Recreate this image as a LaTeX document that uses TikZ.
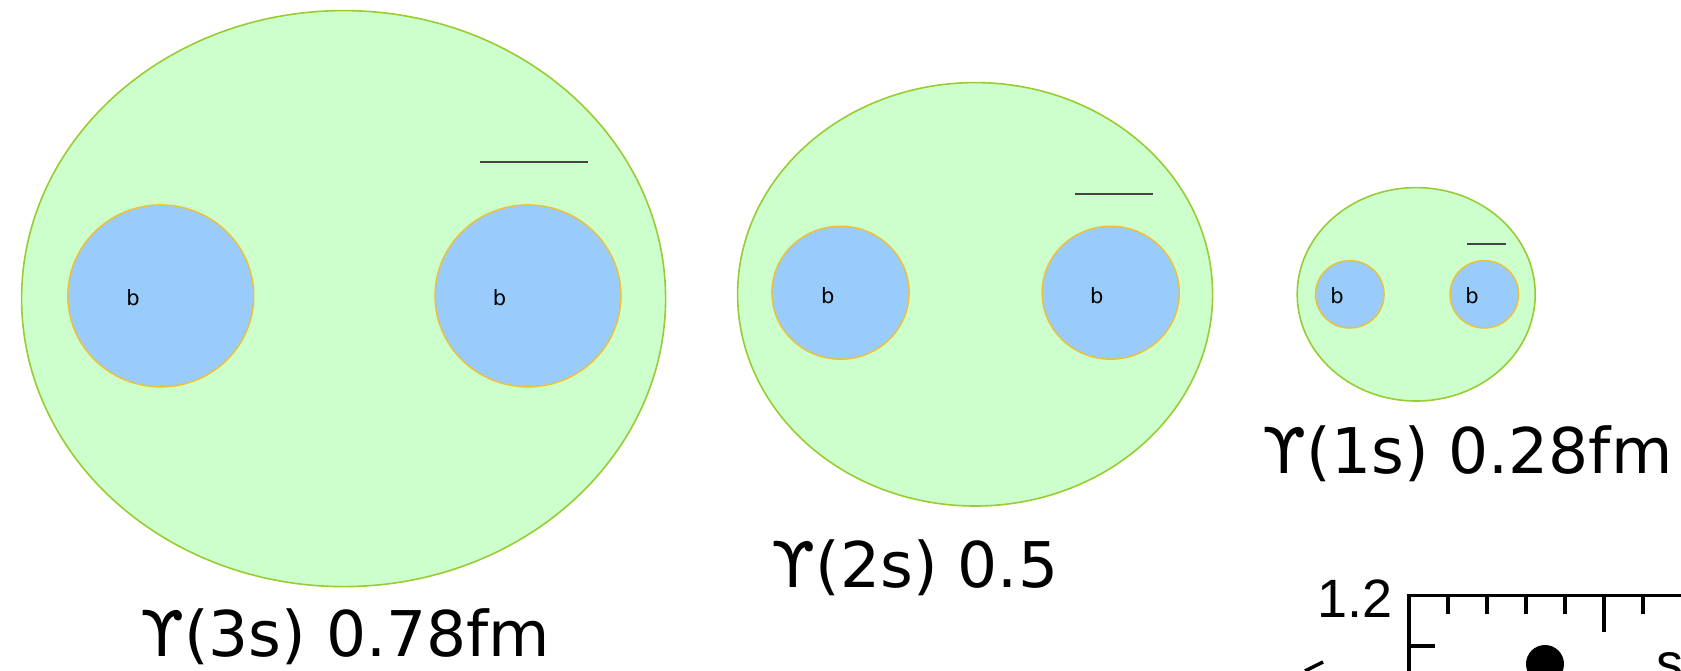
\documentclass[tikz,border=0pt]{standalone}
\usepackage{fontspec}
\setmainfont{DejaVu Sans}
\newfontfamily\helv{Liberation Sans}
\usetikzlibrary{shapes.geometric}
\definecolor{outerfill}{HTML}{CCFFCC}
\definecolor{outerline}{HTML}{99CC33}
\definecolor{innerfill}{HTML}{99CCFA}
\definecolor{innerline}{HTML}{F0C030}
\definecolor{barline}{HTML}{444444}
\begin{document}
\begin{tikzpicture}[x=1pt,y=-1pt,
  outer/.style={ellipse, fill=outerfill, draw=outerline, line width=1.6pt, inner sep=0pt, outer sep=0pt},
  inner/.style={ellipse, fill=innerfill, draw=innerline, line width=1.4pt, inner sep=0pt, outer sep=0pt},
  quark/.style={inner sep=0pt, font=\fontsize{21}{21}\selectfont},
  label/.style={anchor=base, inner sep=0pt, font=\fontsize{63}{63}\selectfont},
  bar/.style={draw=barline, line width=2pt},
  axis/.style={line width=3.5pt, line cap=butt}
]
\useasboundingbox (0,0) rectangle (1681,670);
\clip (0,0) rectangle (1681,670);
% Upsilon(3s)
\node[outer, minimum width=644pt, minimum height=576pt] (o3) at (343.6,298.6) {};
\node[inner, minimum width=186pt, minimum height=182pt] (l3) at (160.8,295.9) {};
\node[inner, minimum width=186pt, minimum height=182pt] (r3) at (528.0,295.9) {};
\node[quark] (bl3) at (133,298) {b};
\node[quark] (br3) at (499.6,298) {b};
\coordinate (s3a) at (480,162);
\coordinate (s3b) at (587.5,162);
\draw[bar] (s3a) -- (s3b);
\node[label] (t3) at (345,656) {ϒ(3s) 0.78fm};
% Upsilon(2s)
\node[outer, minimum width=475pt, minimum height=423.4pt] (o2) at (975.1,294.3) {};
\node[inner, minimum width=137.2pt, minimum height=133pt] (l2) at (840.5,292.7) {};
\node[inner, minimum width=137.2pt, minimum height=133pt] (r2) at (1110.7,292.7) {};
\node[quark] (bl2) at (827.7,295.9) {b};
\node[quark] (br2) at (1096.8,295.9) {b};
\coordinate (s2a) at (1075.3,194);
\coordinate (s2b) at (1152.5,194);
\draw[bar] (s2a) -- (s2b);
\node[label] (t2) at (915,587.5) {ϒ(2s) 0.5};
% Upsilon(1s)
\node[outer, minimum width=238pt, minimum height=213.4pt] (o1) at (1416.2,294.3) {};
\node[inner, minimum width=68.6pt, minimum height=67.5pt] (l1) at (1349.8,294.3) {};
\node[inner, minimum width=68.6pt, minimum height=67.5pt] (r1) at (1484.3,294.3) {};
\node[quark] (bl1) at (1337,296) {b};
\node[quark] (br1) at (1472,296) {b};
\coordinate (s1a) at (1466.6,244.4);
\coordinate (s1b) at (1506.3,244.4);
\draw[bar] (s1a) -- (s1b);
\node[label] (t1) at (1467.5,473) {ϒ(1s) 0.28fm};
% plot fragment
\coordinate (ax0) at (1409,595.7);
\coordinate (axr) at (1690,595.7);
\coordinate (axb) at (1409,680);
\draw[axis] (axr) -- (ax0) -- (axb);
\foreach \x in {1448,1487,1526,1565,1643}
  \draw[axis] (\x,595.7) -- (\x,614);
\draw[axis] (1604,595.7) -- (1604,632);
\draw[axis] (1409,646) -- (1435,646);
\node[anchor=base east, inner sep=0pt, font=\helv\fontsize{54}{54}\selectfont] (y12) at (1393,617) {1.2};
\node[circle, fill=black, inner sep=0pt, minimum size=38pt] (dot) at (1545,664) {};
\coordinate (m1) at (1305,671);
\coordinate (m2) at (1323,662);
\draw[axis] (m1) -- (m2);
\node[anchor=north west, inner sep=0pt, font=\helv\fontsize{54}{54}\selectfont] (sl) at (1656,652) {s};
\end{tikzpicture}
\end{document}
